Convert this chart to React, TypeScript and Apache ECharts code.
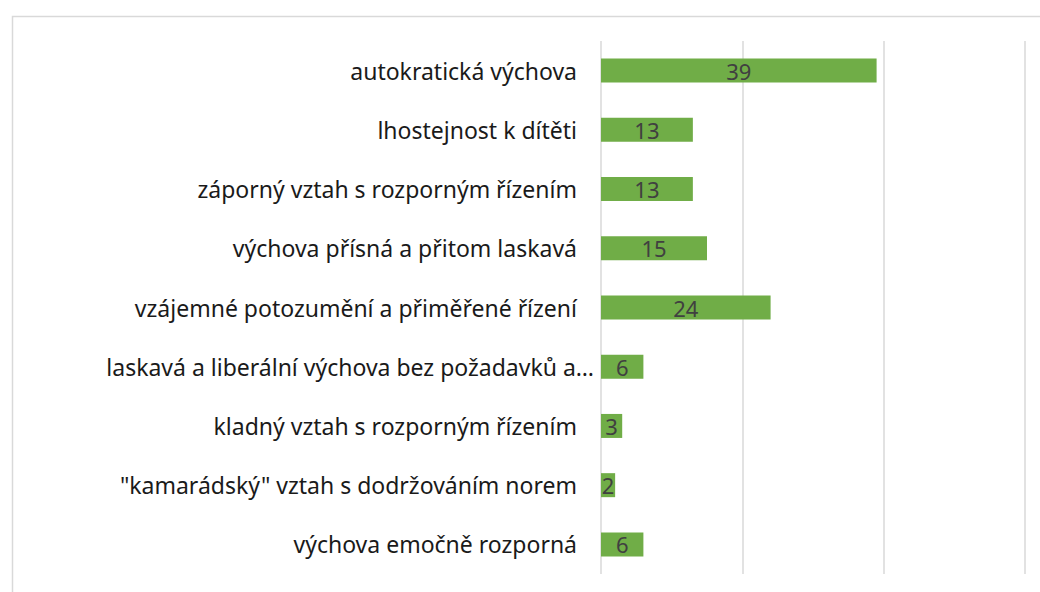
import React, { useEffect, useRef } from "react";
import * as echarts from "echarts";

const categories = [
  "autokratická výchova",
  "lhostejnost k dítěti",
  "záporný vztah s rozporným řízením",
  "výchova přísná a přitom laskavá",
  "vzájemné potozumění a přiměřené řízení",
  "laskavá a liberální výchova bez požadavků a…",
  "kladný vztah s rozporným řízením",
  "\"kamarádský\" vztah s dodržováním norem",
  "výchova emočně rozporná",
];
const values = [39, 13, 13, 15, 24, 6, 3, 2, 6];
const axisMin = 0;
const axisMax = 60;
const axisStep = 20;

export default function App() {
  const ref = useRef<HTMLDivElement>(null);
  useEffect(() => {
    if (!ref.current) return;
    const chart = echarts.init(ref.current, null, { renderer: "svg" });
    chart.setOption({
      animation: false,
      backgroundColor: "#ffffff",
      textStyle: { fontFamily: "Noto Sans" },
      graphic: [
        {
          type: "rect",
          left: 10,
          top: 14,
          shape: { x: 0, y: 0, width: 1100, height: 700 },
          style: { fill: "none", stroke: "#D9D9D9", lineWidth: 1.5 },
          silent: true,
          z: -1,
        },
      ],
      grid: { left: 601, right: 15, top: 41, bottom: 18, containLabel: false },
      xAxis: {
        type: "value",
        min: axisMin,
        max: axisMax,
        interval: axisStep,
        axisLabel: { show: false },
        axisLine: { show: false },
        axisTick: { show: false },
        splitLine: { show: true, lineStyle: { color: "#D9D9D9", width: 1.5 } },
      },
      yAxis: {
        type: "category",
        data: categories,
        inverse: true,
        axisLine: { show: false },
        axisTick: { show: false },
        axisLabel: {
          margin: 24,
          fontSize: 23,
          color: "#1a1a1a",
          fontFamily: "Noto Sans",
          formatter: (v: string) => (v.endsWith("…") ? "{long|" + v + "}" : v),
          rich: {
            long: {
              fontSize: 23,
              color: "#1a1a1a",
              fontFamily: "Noto Sans",
              padding: [0, -17, 0, 0],
            },
          },
        },
      },
      series: [
        {
          type: "bar",
          data: values,
          barWidth: 24,
          itemStyle: { color: "#70AD47" },
          label: {
            show: true,
            position: "inside",
            fontSize: 22,
            color: "#404040",
            fontFamily: "Noto Sans",
          },
        },
      ],
    });
    return () => chart.dispose();
  }, []);
  return (
    <div
      ref={ref}
      style={{ position: "fixed", left: 0, top: 0, width: 1040, height: 592 }}
    />
  );
}
